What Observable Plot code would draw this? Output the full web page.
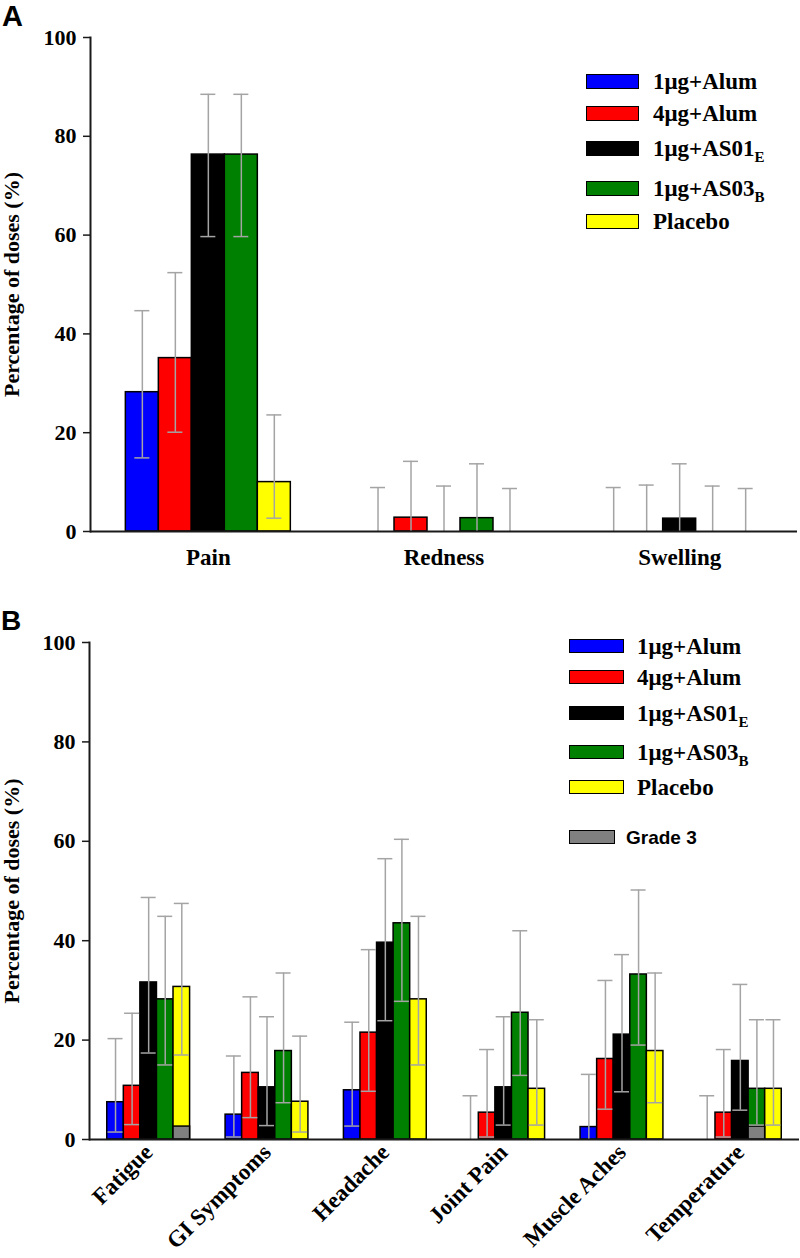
<!DOCTYPE html>
<html><head><meta charset="utf-8">
<script src="https://cdn.jsdelivr.net/npm/d3@7"></script>
<script src="https://cdn.jsdelivr.net/npm/@observablehq/plot@0.6"></script>
<style>
body{margin:0;background:#fff;}
#wrap{position:relative;width:800px;height:1258px;overflow:hidden;background:#fff;font-family:"Liberation Serif","Times New Roman",serif;font-weight:bold;color:#000;}
.panel{position:absolute;left:0;}
.letter{position:absolute;font-family:"Liberation Sans",Arial,sans-serif;font-weight:bold;line-height:1;}
.leg{position:absolute;display:flex;align-items:center;height:26px;}
.sw{display:inline-block;border:1.5px solid #000;box-sizing:border-box;flex:none;}
.lt{font-size:23px;line-height:23px;white-space:nowrap;}
.lt sub{font-size:15px;vertical-align:-6px;line-height:0;}
.g3{font-family:"Liberation Sans",Arial,sans-serif;font-size:19px;line-height:19px;white-space:nowrap;}
</style></head><body><div id="wrap"></div>
<script>
// ---------- data ----------
const seriesBase = ["1\u03bcg+Alum", "4\u03bcg+Alum", "1\u03bcg+AS01", "1\u03bcg+AS03", "Placebo"];
const seriesSub = ["", "", "E", "B", ""];
const seriesColors = ["#0000ff", "#ff0000", "#000000", "#008000", "#ffff00"];
const grade3Label = "Grade 3";
const grade3Color = "#808080";
const yTicks = [0, 20, 40, 60, 80, 100];
const yLabel = "Percentage of doses (%)";

// Panel A: local symptoms (rows = series, cols = categories)
const catsA = ["Pain", "Redness", "Swelling"];
const aVal = [
  [28.2, 0, 0],
  [35.1, 2.8, 0],
  [76.3, 0, 2.6],
  [76.3, 2.7, 0],
  [10.0, 0, 0]
];
const aLow = [
  [14.9, 0, 0],
  [20.1, 0, 0],
  [59.7, 0, 0],
  [59.7, 0, 0],
  [2.7, 0, 0]
];
const aHigh = [
  [44.7, 8.9, 8.9],
  [52.4, 14.2, 9.4],
  [88.5, 9.2, 13.7],
  [88.5, 13.7, 9.2],
  [23.6, 8.7, 8.7]
];

// Panel B: general symptoms
const catsB = ["Fatigue", "GI Symptoms", "Headache", "Joint Pain", "Muscle Aches", "Temperature"];
const bVal = [
  [7.5, 5.0, 9.9, 0, 2.5, 0],
  [10.8, 13.4, 21.5, 5.4, 16.2, 5.4],
  [31.6, 10.5, 39.6, 10.5, 21.1, 15.8],
  [28.2, 17.8, 43.5, 25.5, 33.2, 10.2],
  [30.7, 7.6, 28.2, 10.2, 17.8, 10.2]
];
const bLow = [
  [1.5, 0.5, 2.7, 0, 0, 0],
  [3.0, 4.4, 9.7, 0.5, 6.1, 0.5],
  [17.4, 2.8, 23.9, 2.9, 9.6, 5.9],
  [15.0, 7.4, 27.8, 12.9, 19.0, 2.9],
  [17.0, 1.5, 15.0, 2.9, 7.4, 2.9]
];
const bHigh = [
  [20.3, 16.8, 23.6, 8.8, 13.1, 8.8],
  [25.4, 28.7, 38.2, 18.1, 32.0, 18.1],
  [48.7, 24.7, 56.5, 24.7, 37.2, 31.2],
  [44.9, 33.5, 60.4, 42.0, 50.2, 24.1],
  [47.5, 20.8, 44.9, 24.1, 33.5, 24.1]
];
const bGrade3 = [
  [0, 0, 0, 0, 0, 0],
  [0, 0, 0, 0, 0, 0],
  [0, 0, 0, 0, 0, 0],
  [0, 0, 0, 0, 0, 2.6],
  [2.6, 0, 0, 0, 0, 0]
];

// ---------- build ----------
function makeRows(cats, val, low, high, g3) {
  const rows = [];
  seriesBase.forEach((_, s) => cats.forEach((c, j) => rows.push({
    cat: c, s, v: val[s][j], lo: low[s][j], hi: high[s][j], g3: g3 ? g3[s][j] : 0
  })));
  return rows;
}

const FONT = '"Liberation Serif","Times New Roman",serif';
const ERR = "#a4a4a4";
const AX = "#1a1a1a";

function panel(cats, rows, o) {
  const n = seriesBase.length;
  const bw = (o.width - o.ml - o.mr) / cats.length * 0.7;
  const w = bw / n, cap = 15, off = (w - cap) / 2;
  const marks = [];
  seriesBase.forEach((_, s) => {
    const d = rows.filter(r => r.s === s && r.v > 0);
    marks.push(Plot.barY(d, {x: "cat", y: "v", fill: seriesColors[s], stroke: "#000", strokeWidth: 1.5,
      insetLeft: s * w, insetRight: (n - 1 - s) * w}));
  });
  seriesBase.forEach((_, s) => {
    const d = rows.filter(r => r.s === s && r.g3 > 0);
    if (d.length) marks.push(Plot.barY(d, {x: "cat", y: "g3", fill: grade3Color, stroke: "#000", strokeWidth: 1.5,
      insetLeft: s * w, insetRight: (n - 1 - s) * w}));
  });
  seriesBase.forEach((_, s) => {
    const d = rows.filter(r => r.s === s);
    marks.push(Plot.ruleX(d, {x: "cat", y1: "lo", y2: "hi", dx: (s - (n - 1) / 2) * w, stroke: ERR, strokeWidth: 1.5}));
    marks.push(Plot.tickY(d, {x: "cat", y: "hi", insetLeft: s * w + off, insetRight: (n - 1 - s) * w + off, stroke: ERR, strokeWidth: 1.5}));
    marks.push(Plot.tickY(d.filter(r => r.lo > 0), {x: "cat", y: "lo", insetLeft: s * w + off, insetRight: (n - 1 - s) * w + off, stroke: ERR, strokeWidth: 1.5}));
  });
  marks.push(Plot.ruleY([0], {stroke: AX, strokeWidth: 2}));
  marks.push(Plot.frame({anchor: "left", stroke: AX, strokeWidth: 2}));
  marks.push(Plot.axisY({ticks: yTicks, tickSize: 7, tickPadding: 7, fontSize: 22, stroke: AX, strokeWidth: 1.5,
    label: yLabel, labelAnchor: "center", labelOffset: o.labelOffset, labelArrow: "none"}));
  marks.push(Plot.axisX(o.rotate
    ? {tickSize: 0, tickPadding: o.tickPadding, tickRotate: -45, fontSize: 23, label: null}
    : {tickSize: 0, tickPadding: o.tickPadding, fontSize: 23, label: null}));
  return Plot.plot({
    width: o.width, height: o.height,
    marginTop: o.mt, marginBottom: o.mb, marginLeft: o.ml, marginRight: o.mr,
    style: {fontFamily: FONT, fontWeight: "bold", fontSize: "22px", color: "#000", background: "#fff", overflow: "visible"},
    x: {domain: cats, paddingInner: 0.3, paddingOuter: 0.15, round: false, label: null},
    y: {domain: [0, 100], label: null},
    marks
  });
}

const wrap = document.getElementById("wrap");
function place(el, top) {
  const d = document.createElement("div");
  d.className = "panel"; d.style.top = top + "px";
  d.appendChild(el); wrap.appendChild(d);
}

place(panel(catsA, makeRows(catsA, aVal, aLow, aHigh, null),
  {width: 800, height: 580, mt: 37, mb: 49, ml: 90, mr: 3, rotate: false, tickPadding: 17, labelOffset: 87}), 0);
place(panel(catsB, makeRows(catsB, bVal, bLow, bHigh, bGrade3),
  {width: 800, height: 678, mt: 62, mb: 119, ml: 89, mr: 1, rotate: true, tickPadding: 9, labelOffset: 86}), 580);

// panel letters
function letter(t, left, top, size) {
  const d = document.createElement("div");
  d.className = "letter"; d.textContent = t;
  Object.assign(d.style, {left: left + "px", top: top + "px", fontSize: size + "px"});
  wrap.appendChild(d);
}
letter("A", 2, 2, 29);
letter("B", 1, 607, 28);

// legends
function legendRow(left, center, sw, sh, gap, html, cls, fill) {
  const r = document.createElement("div");
  r.className = "leg";
  r.style.left = left + "px"; r.style.top = (center - 13) + "px";
  const s = document.createElement("span");
  s.className = "sw";
  Object.assign(s.style, {width: sw + "px", height: sh + "px", background: fill, marginRight: gap + "px"});
  const t = document.createElement("span");
  t.className = cls; t.innerHTML = html;
  r.appendChild(s); r.appendChild(t); wrap.appendChild(r);
}
function label(i) { return seriesBase[i] + (seriesSub[i] ? "<sub>" + seriesSub[i] + "</sub>" : ""); }

const legA = [81, 113, 148, 188, 221];
seriesBase.forEach((_, i) => legendRow(586, legA[i], 53, 15, 14, label(i), "lt", seriesColors[i]));
const legB = [646, 677, 713, 752, 787];
seriesBase.forEach((_, i) => legendRow(569, legB[i], 55, 14, 13, label(i), "lt", seriesColors[i]));
legendRow(569, 837, 46, 14, 11, grade3Label, "g3", grade3Color);
</script></body></html>
